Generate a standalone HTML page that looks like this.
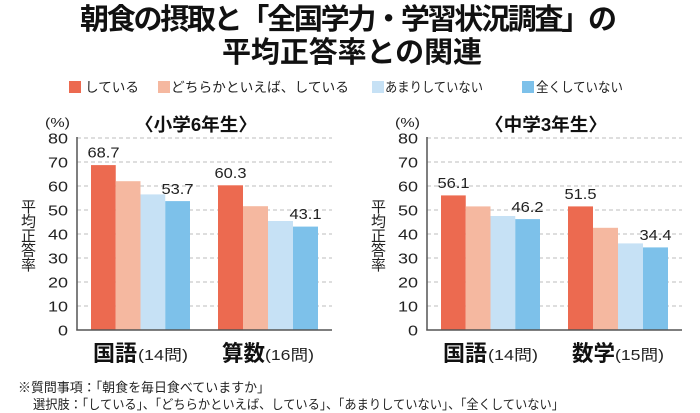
<!DOCTYPE html>
<html lang="ja">
<head>
<meta charset="utf-8">
<style>
html,body{margin:0;padding:0;background:#fff;}
svg{display:block;}
.jp{font-family:"Liberation Sans","Noto Sans CJK JP",sans-serif;}
.num{font-family:"Liberation Sans","Noto Sans CJK JP",sans-serif;}
</style>
</head>
<body>
<svg width="700" height="413" viewBox="0 0 700 413" xmlns="http://www.w3.org/2000/svg">
  <rect width="700" height="413" fill="#fff"/>
  <!-- Title -->
  <text class="jp" x="348.5" y="29" font-size="29" font-weight="bold" text-anchor="middle" textLength="537" lengthAdjust="spacing" fill="#111">朝食の摂取と「全国学力・学習状況調査」の</text>
  <text class="jp" x="352" y="62" font-size="29" font-weight="bold" text-anchor="middle" textLength="260" lengthAdjust="spacing" fill="#111">平均正答率との関連</text>

  <!-- Legend -->
  <g class="jp" font-size="13.5" fill="#222">
    <rect x="69" y="81" width="12" height="12" fill="#EC6A50"/>
    <text x="85" y="92" textLength="54" lengthAdjust="spacingAndGlyphs">している</text>
    <rect x="158" y="81" width="12" height="12" fill="#F5B8A0"/>
    <text x="171" y="92" textLength="178" lengthAdjust="spacingAndGlyphs">どちらかといえば、している</text>
    <rect x="372" y="81" width="12" height="12" fill="#C6E1F5"/>
    <text x="385" y="92" textLength="98" lengthAdjust="spacingAndGlyphs">あまりしていない</text>
    <rect x="522" y="81" width="12" height="12" fill="#7DC1EA"/>
    <text x="536" y="92" textLength="87" lengthAdjust="spacingAndGlyphs">全くしていない</text>
  </g>

  <!-- Chart 1 -->
  <g>
    <text class="jp" x="196" y="131" font-size="18" font-weight="bold" text-anchor="middle" textLength="122" lengthAdjust="spacingAndGlyphs" fill="#111">〈小学6年生〉</text>
    <text class="num" x="45" y="127" font-size="13" textLength="25" lengthAdjust="spacingAndGlyphs" fill="#222">(%)</text>
    <g stroke="#bdbdbd" stroke-width="1" stroke-dasharray="4 3">
      <line x1="77" y1="138" x2="332" y2="138"/>
      <line x1="77" y1="162" x2="332" y2="162"/>
      <line x1="77" y1="186" x2="332" y2="186"/>
      <line x1="77" y1="210" x2="332" y2="210"/>
      <line x1="77" y1="234" x2="332" y2="234"/>
      <line x1="77" y1="258" x2="332" y2="258"/>
      <line x1="77" y1="282" x2="332" y2="282"/>
      <line x1="77" y1="306" x2="332" y2="306"/>
    </g>
    <g class="num" font-size="15" fill="#222" text-anchor="end">
      <text x="68" y="143.5" textLength="20" lengthAdjust="spacingAndGlyphs">80</text>
      <text x="68" y="167.5" textLength="20" lengthAdjust="spacingAndGlyphs">70</text>
      <text x="68" y="191.5" textLength="20" lengthAdjust="spacingAndGlyphs">60</text>
      <text x="68" y="215.5" textLength="20" lengthAdjust="spacingAndGlyphs">50</text>
      <text x="68" y="239.5" textLength="20" lengthAdjust="spacingAndGlyphs">40</text>
      <text x="68" y="263.5" textLength="20" lengthAdjust="spacingAndGlyphs">30</text>
      <text x="68" y="287.5" textLength="20" lengthAdjust="spacingAndGlyphs">20</text>
      <text x="68" y="311.5" textLength="20" lengthAdjust="spacingAndGlyphs">10</text>
      <text x="68" y="335.5" textLength="10" lengthAdjust="spacingAndGlyphs">0</text>
    </g>
    <g class="jp" font-size="15" fill="#222" text-anchor="middle">
      <text x="28.5" y="212">平</text>
      <text x="28.5" y="226.5">均</text>
      <text x="28.5" y="241">正</text>
      <text x="28.5" y="255.5">答</text>
      <text x="28.5" y="270">率</text>
    </g>
    <!-- bars group 1: 68.7, 62.0, 56.5, 53.7 -->
    <rect x="91" y="165.1" width="24.75" height="164.9" fill="#EC6A50"/>
    <rect x="115.75" y="181.2" width="24.75" height="148.8" fill="#F5B8A0"/>
    <rect x="140.5" y="194.4" width="24.75" height="135.6" fill="#C6E1F5"/>
    <rect x="165.25" y="201.1" width="24.75" height="128.9" fill="#7DC1EA"/>
    <!-- bars group 2: 60.3, 51.6, 45.4, 43.1 -->
    <rect x="218" y="185.3" width="25" height="144.7" fill="#EC6A50"/>
    <rect x="243" y="206.2" width="25" height="123.8" fill="#F5B8A0"/>
    <rect x="268" y="221" width="25" height="109" fill="#C6E1F5"/>
    <rect x="293" y="226.6" width="25" height="103.4" fill="#7DC1EA"/>
    <g class="num" font-size="15" fill="#222" text-anchor="middle">
      <text x="103.5" y="157.5" textLength="32" lengthAdjust="spacingAndGlyphs">68.7</text>
      <text x="177.5" y="193.8" textLength="32" lengthAdjust="spacingAndGlyphs">53.7</text>
      <text x="230.5" y="178" textLength="32" lengthAdjust="spacingAndGlyphs">60.3</text>
      <text x="305.5" y="219" textLength="32" lengthAdjust="spacingAndGlyphs">43.1</text>
    </g>
    <line x1="77" y1="137" x2="77" y2="330.5" stroke="#555" stroke-width="1.5"/>
    <line x1="76.3" y1="330" x2="332" y2="330" stroke="#555" stroke-width="1.5"/>
    <text class="jp" x="93" y="361" font-size="22" font-weight="bold" textLength="44" lengthAdjust="spacingAndGlyphs" fill="#111">国語</text>
    <text class="jp" x="138" y="360" font-size="15" textLength="50" lengthAdjust="spacingAndGlyphs" fill="#222">(14問)</text>
    <text class="jp" x="222" y="361" font-size="22" font-weight="bold" textLength="43" lengthAdjust="spacingAndGlyphs" fill="#111">算数</text>
    <text class="jp" x="265" y="360" font-size="15" textLength="49" lengthAdjust="spacingAndGlyphs" fill="#222">(16問)</text>
  </g>

  <!-- Chart 2 -->
  <g>
    <text class="jp" x="546" y="131" font-size="18" font-weight="bold" text-anchor="middle" textLength="122" lengthAdjust="spacingAndGlyphs" fill="#111">〈中学3年生〉</text>
    <text class="num" x="395" y="127" font-size="13" textLength="25" lengthAdjust="spacingAndGlyphs" fill="#222">(%)</text>
    <g stroke="#bdbdbd" stroke-width="1" stroke-dasharray="4 3">
      <line x1="427" y1="138" x2="682" y2="138"/>
      <line x1="427" y1="162" x2="682" y2="162"/>
      <line x1="427" y1="186" x2="682" y2="186"/>
      <line x1="427" y1="210" x2="682" y2="210"/>
      <line x1="427" y1="234" x2="682" y2="234"/>
      <line x1="427" y1="258" x2="682" y2="258"/>
      <line x1="427" y1="282" x2="682" y2="282"/>
      <line x1="427" y1="306" x2="682" y2="306"/>
    </g>
    <g class="num" font-size="15" fill="#222" text-anchor="end">
      <text x="418" y="143.5" textLength="20" lengthAdjust="spacingAndGlyphs">80</text>
      <text x="418" y="167.5" textLength="20" lengthAdjust="spacingAndGlyphs">70</text>
      <text x="418" y="191.5" textLength="20" lengthAdjust="spacingAndGlyphs">60</text>
      <text x="418" y="215.5" textLength="20" lengthAdjust="spacingAndGlyphs">50</text>
      <text x="418" y="239.5" textLength="20" lengthAdjust="spacingAndGlyphs">40</text>
      <text x="418" y="263.5" textLength="20" lengthAdjust="spacingAndGlyphs">30</text>
      <text x="418" y="287.5" textLength="20" lengthAdjust="spacingAndGlyphs">20</text>
      <text x="418" y="311.5" textLength="20" lengthAdjust="spacingAndGlyphs">10</text>
      <text x="418" y="335.5" textLength="10" lengthAdjust="spacingAndGlyphs">0</text>
    </g>
    <g class="jp" font-size="15" fill="#222" text-anchor="middle">
      <text x="378.5" y="212">平</text>
      <text x="378.5" y="226.5">均</text>
      <text x="378.5" y="241">正</text>
      <text x="378.5" y="255.5">答</text>
      <text x="378.5" y="270">率</text>
    </g>
    <!-- group 1: 56.1, 51.5, 47.5, 46.2 -->
    <rect x="441" y="195.4" width="24.75" height="134.6" fill="#EC6A50"/>
    <rect x="465.75" y="206.4" width="24.75" height="123.6" fill="#F5B8A0"/>
    <rect x="490.5" y="216" width="24.75" height="114" fill="#C6E1F5"/>
    <rect x="515.25" y="219.1" width="24.75" height="110.9" fill="#7DC1EA"/>
    <!-- group 2: 51.5, 42.6, 36.1, 34.4 -->
    <rect x="568" y="206.4" width="25" height="123.6" fill="#EC6A50"/>
    <rect x="593" y="227.8" width="25" height="102.2" fill="#F5B8A0"/>
    <rect x="618" y="243.4" width="25" height="86.6" fill="#C6E1F5"/>
    <rect x="643" y="247.4" width="25" height="82.6" fill="#7DC1EA"/>
    <g class="num" font-size="15" fill="#222" text-anchor="middle">
      <text x="453.5" y="188" textLength="32" lengthAdjust="spacingAndGlyphs">56.1</text>
      <text x="527.5" y="211.8" textLength="32" lengthAdjust="spacingAndGlyphs">46.2</text>
      <text x="580.5" y="199" textLength="32" lengthAdjust="spacingAndGlyphs">51.5</text>
      <text x="655.5" y="240" textLength="32" lengthAdjust="spacingAndGlyphs">34.4</text>
    </g>
    <line x1="427" y1="137" x2="427" y2="330.5" stroke="#555" stroke-width="1.5"/>
    <line x1="426.3" y1="330" x2="682" y2="330" stroke="#555" stroke-width="1.5"/>
    <text class="jp" x="443" y="361" font-size="22" font-weight="bold" textLength="44" lengthAdjust="spacingAndGlyphs" fill="#111">国語</text>
    <text class="jp" x="488" y="360" font-size="15" textLength="50" lengthAdjust="spacingAndGlyphs" fill="#222">(14問)</text>
    <text class="jp" x="572" y="361" font-size="22" font-weight="bold" textLength="43" lengthAdjust="spacingAndGlyphs" fill="#111">数学</text>
    <text class="jp" x="615" y="360" font-size="15" textLength="49" lengthAdjust="spacingAndGlyphs" fill="#222">(15問)</text>
  </g>

  <!-- Footnote -->
  <text class="jp" x="18" y="392" font-size="13" textLength="252" lengthAdjust="spacingAndGlyphs" fill="#222">※質問事項：「朝食を毎日食べていますか」</text>
  <text class="jp" x="33" y="409" font-size="13" textLength="531" lengthAdjust="spacingAndGlyphs" fill="#222">選択肢：「している」、「どちらかといえば、している」、「あまりしていない」、「全くしていない」</text>
</svg>
</body>
</html>
